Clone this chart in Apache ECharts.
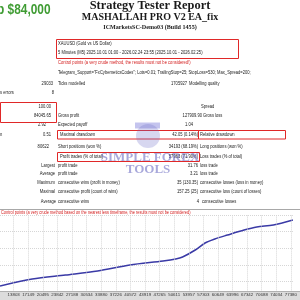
<!DOCTYPE html>
<html><head><meta charset="utf-8">
<script src="https://cdn.jsdelivr.net/npm/echarts@6/dist/echarts.min.js"></script>
<style>html,body{margin:0;padding:0;background:#fff}#c{width:300px;height:300px}</style>
</head><body><div id="c"></div>
<script>
// ---- chart data ----
const xTickLabels = [10457,13803,17149,20495,23842,27188,30534,33880,37226,40572,43919,47265,50611,53957,57303,60649,63996,67342,70688,74034,77380];
const equityTrades = [10668,18057,25669,33058,40447,48059,50970,52537,55448,57687,59926,62837,66643,69554,73360,77838];
const equityBalance = [13381,20935,25252,29568,36043,40360,42518,44676,52230,59784,64101,68417,73813,77050,79209,84604];

// ---- report texts ----
const titleMain = 'Strategy Tester Report';
const titleEA = 'MASHALLAH PRO V2 EA_fix';
const titleServer = 'ICMarketsSC-Demo03 (Build 1455)';
const promo = 'p $84,000';
const symbolLine = 'XAUUSD (Gold vs US Dollar)';
const periodLine = '5 Minutes (M5) 2025.10.01 01:00 - 2026.02.24 23:55 (2025.10.01 - 2026.02.25)';
const modelLine = 'Control points (a very crude method, the results must not be considered!)';
const paramLine = 'Telegram_Support="FxCyberneticsCodes"; Lots=0.01; TrailingStop=25; StopLoss=530; Max_Spread=200;';
const chartNote = 'Control points (a very crude method based on the nearest less timeframe, the results must not be considered)';

const SANS = '"Liberation Sans", Arial, sans-serif';
const SERIF = '"Liberation Serif", "Times New Roman", serif';
const g = [];
function T(x, y, text, o) {
  o = o || {};
  const align = o.align || 'left';
  g.push({
    type: 'text', x: x, y: y, z: o.z || 10,
    scaleX: o.sx === undefined ? 0.82 : o.sx, scaleY: 1,
    style: {
      text: text, x: 0, y: 0,
      font: o.font || ('5px ' + SANS),
      fill: o.fill || '#1a1a1a',
      stroke: o.stroke, lineWidth: o.lw || 0,
      align: align, textAlign: align,
      verticalAlign: 'middle', textVerticalAlign: 'middle'
    }
  });
}
function R(x, y, w, h, o) {
  o = o || {};
  g.push({ type: 'rect', z: o.z || 12, shape: { x: x, y: y, width: w, height: h },
    style: { fill: o.fill || 'none', stroke: o.stroke || '#e02828', lineWidth: o.lw === undefined ? 1 : o.lw } });
}

// header
T(-3, 10, promo, { font: 'bold 14px ' + SANS, fill: '#3f9c33', sx: 0.85 });
T(150, 6, titleMain, { font: 'bold 12.4px ' + SERIF, align: 'center', sx: 1 });
T(150, 17, titleEA, { font: 'bold 10px ' + SERIF, align: 'center', sx: 1 });
T(150, 27, titleServer, { font: 'bold 6.1px ' + SERIF, align: 'center', sx: 1 });

// info box
R(56.5, 39.5, 182, 19);
T(58, 44, symbolLine);
T(58, 53, periodLine);
T(58, 63, modelLine, { fill: '#d42020' });
T(58, 73, paramLine);

// table rows
const RV = 51, LB = 58, RV2 = 198, LB2 = 200;
T(RV + 2, 84, '29033', { align: 'right' }); T(LB, 84, 'Ticks modelled');
T(187, 84, '1705927', { align: 'right' }); T(189, 84, 'Modelling quality');
T(0, 93, 's errors'); T(54, 93, '8', { align: 'right' });
R(0.5, 102.5, 56, 20);
T(RV, 107, '100.00', { align: 'right' }); T(LB2 + 1, 107, 'Spread');
T(RV, 116, '84045.65', { align: 'right' }); T(LB, 116, 'Gross profit');
T(202, 116, '127909.90', { align: 'right' }); T(203, 116, 'Gross loss');
T(46, 125, '2.92', { align: 'right' }); T(LB, 125, 'Expected payoff');
R(135, 122.5, 25, 6, { fill: '#c4c4ee', stroke: 'none', lw: 0 });
T(193, 125, '1.04', { align: 'right' });

R(57.5, 130.5, 141, 8.5); R(198.5, 130.5, 87, 8.5);
T(0, 135, 'n'); T(RV, 135, '0.51', { align: 'right' }); T(60, 135, 'Maximal drawdown');
T(RV2, 135, '42.05 (0.14%)', { align: 'right' }); T(LB2, 135, 'Relative drawdown');

T(49, 147, '80622', { align: 'right' }); T(LB, 147, 'Short positions (won %)');
T(RV2, 147, '34193 (68.19%)', { align: 'right' }); T(LB2, 147, 'Long positions (won %)');
R(57.5, 152.5, 142, 9);
T(60, 157, 'Profit trades (% of total)');
T(RV2, 157, '57963 (71.90%)', { align: 'right' }); T(LB2, 157, 'Loss trades (% of total)');
T(55, 166, 'Largest', { align: 'right' }); T(LB, 166, 'profit trade');
T(RV2, 166, '31.76', { align: 'right' }); T(LB2, 166, 'loss trade');
T(55, 174, 'Average', { align: 'right' }); T(LB, 174, 'profit trade');
T(RV2, 174, '3.21', { align: 'right' }); T(LB2, 174, 'loss trade');
T(55, 183, 'Maximum', { align: 'right' }); T(LB, 183, 'consecutive wins (profit in money)');
T(RV2, 183, '35 (130.35)', { align: 'right' }); T(LB2, 183, 'consecutive losses (loss in money)');
T(55, 192, 'Maximal', { align: 'right' }); T(LB, 192, 'consecutive profit (count of wins)');
T(RV2, 192, '157.25 (25)', { align: 'right' }); T(LB2, 192, 'consecutive loss (count of losses)');
T(56, 202, 'Average', { align: 'right' }); T(LB, 202, 'consecutive wins');
T(199, 202, '4', { align: 'right' }); T(202, 202, 'consecutive losses');

// watermark
g.push({ type: 'circle', z: 20, shape: { cx: 148, cy: 136, r: 12 }, style: { fill: 'rgba(110,110,200,0.28)' } });
T(150, 158, 'SIMPLE FOREX', { font: 'bold 13px ' + SERIF, align: 'center', sx: 1, fill: 'rgba(110,110,195,0.6)', z: 21 });
T(148, 170, 'TOOLS', { font: 'bold 13px ' + SERIF, align: 'center', sx: 1, fill: 'rgba(110,110,195,0.6)', z: 21 });

// chart frame
g.push({ type: 'line', z: 5, shape: { x1: 0, y1: 209.5, x2: 300, y2: 209.5 }, style: { stroke: '#a8a8a8', lineWidth: 1 } });
T(1, 213, chartNote, { fill: '#d42020', font: '4.6px ' + SANS, sx: 0.85 });
g.push({ type: 'rect', z: 50, shape: { x: 0, y: 291, width: 300, height: 9 }, style: { fill: '#dcdcdc' } });
g.push({ type: 'line', z: 51, shape: { x1: 0, y1: 291.5, x2: 300, y2: 291.5 }, style: { stroke: '#b0b0b0', lineWidth: 1 } });

const chart = echarts.init(document.getElementById('c'));
chart.setOption({
  animation: false,
  backgroundColor: '#fff',
  grid: { left: 0, right: 0, top: 215, bottom: 1.6, containLabel: false },
  xAxis: {
    type: 'value', min: 10668, max: 77838, z: 60, offset: -7.5,
    axisLine: { show: false }, axisTick: { show: false },
    splitLine: { show: false },
    axisLabel: { customValues: xTickLabels, formatter: v => String(v), fontSize: 4.4, color: '#333', margin: 2.2, fontFamily: SANS, showMinLabel: true, showMaxLabel: true, hideOverlap: false }
  },
  yAxis: {
    type: 'value', min: 0, max: 90000, interval: 18000,
    axisLine: { show: false }, axisTick: { show: false }, axisLabel: { show: false },
    splitLine: { show: true, lineStyle: { color: '#d6d6d6', type: 'dotted', width: 1 } }
  },
  series: [{
    type: 'line', data: equityTrades.map((t, i) => [t, equityBalance[i]]),
    showSymbol: false, smooth: 0.3,
    lineStyle: { color: '#3a3aa6', width: 1.5 },
    markLine: {
      silent: true, symbol: ['none', 'none'], label: { show: false },
      lineStyle: { color: '#d6d6d6', type: 'dotted', width: 1 },
      data: xTickLabels.map(v => ({ xAxis: v }))
    }
  }],
  graphic: { elements: g }
});
</script></body></html>
